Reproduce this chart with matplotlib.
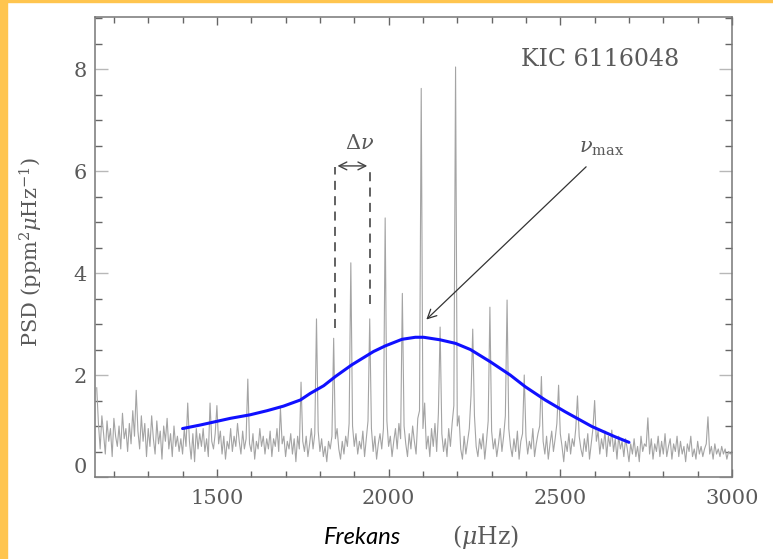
import numpy as np
import matplotlib
matplotlib.use('Agg')
import matplotlib.pyplot as plt
from matplotlib.patches import Rectangle
from matplotlib.ticker import MultipleLocator

plt.rcParams['mathtext.fontset'] = 'dejavuserif'

# Power spectrum, sampled every 5 muHz from 1150 to 3000 (one row = 100 muHz)
freq_start, freq_step = 1150, 5
psd = [
    1.75, 1.05, 0.55, 1.20, 0.85, 0.45, 1.10, 0.70, 0.95, 0.40, 1.15, 0.80, 0.60, 1.00, 0.55, 1.25, 0.75, 0.95, 0.50, 1.05,
    0.65, 1.30, 0.80, 1.70, 0.90, 0.55, 1.20, 0.70, 1.05, 0.40, 0.95, 0.60, 1.20, 0.75, 0.45, 1.10, 0.65, 0.90, 0.35, 1.00,
    0.70, 1.15, 0.55, 0.85, 0.40, 1.00, 0.60, 0.80, 0.50, 0.75, 0.45, 0.95, 0.60, 1.45, 0.70, 0.35, 0.85, 0.30, 0.95, 0.55,
    0.85, 0.60, 0.95, 0.50, 0.75, 0.40, 1.45, 0.70, 0.55, 0.85, 1.40, 0.65, 0.90, 0.45, 0.80, 0.35, 0.70, 0.55, 0.95, 0.50,
    0.80, 0.60, 1.05, 0.70, 0.45, 0.90, 0.55, 0.75, 1.92, 0.65, 0.50, 0.85, 0.35, 0.70, 0.55, 0.95, 0.60, 0.80, 0.45, 0.75,
    0.55, 0.90, 0.40, 0.75, 0.60, 0.95, 0.50, 1.35, 0.65, 0.80, 0.40, 0.70, 0.55, 0.85, 0.45, 0.75, 0.30, 0.80, 0.55, 1.86,
    0.70, 0.50, 0.80, 0.40, 0.65, 0.95, 0.55, 0.85, 3.10, 0.90, 0.50, 0.75, 0.40, 0.60, 0.30, 0.70, 0.55, 0.80, 2.72, 0.75,
    0.95, 0.55, 0.35, 0.70, 0.45, 0.80, 0.60, 1.05, 4.20, 1.00, 0.60, 0.85, 0.45, 0.70, 0.55, 0.90, 0.40, 0.75, 1.10, 3.10,
    0.95, 0.50, 0.80, 0.35, 0.65, 0.85, 0.55, 0.95, 5.08, 1.10, 0.60, 0.80, 0.40, 0.70, 0.95, 0.55, 1.05, 0.75, 3.60, 1.00,
    0.65, 0.40, 0.85, 0.55, 1.00, 0.70, 0.45, 1.15, 1.30, 7.62, 0.95, 1.45, 0.55, 0.80, 0.40, 0.95, 0.60, 1.05, 0.50, 1.25,
    2.94, 0.85, 0.50, 0.75, 0.40, 0.95, 0.60, 1.05, 1.40, 8.04, 1.00, 1.20, 0.55, 0.35, 0.80, 0.45, 0.70, 0.95, 1.60, 2.90,
    1.20, 0.60, 0.40, 0.75, 0.55, 0.85, 0.35, 0.70, 1.10, 3.33, 0.90, 0.55, 0.75, 0.40, 0.65, 0.95, 0.50, 0.80, 1.20, 3.47,
    0.95, 0.60, 0.40, 0.75, 0.50, 0.90, 0.35, 0.70, 0.85, 2.00, 0.80, 0.45, 0.70, 0.55, 0.95, 0.40, 0.65, 0.85, 1.00, 1.97,
    0.70, 0.45, 0.80, 0.35, 0.65, 0.90, 0.50, 0.75, 1.05, 1.80, 0.85, 0.60, 0.30, 0.70, 0.50, 0.85, 0.45, 0.75, 0.60, 0.95,
    1.59, 0.80, 0.55, 0.40, 0.75, 0.50, 0.85, 0.35, 0.65, 0.95, 1.50, 0.70, 0.90, 0.45, 0.75, 0.55, 0.90, 0.40, 0.80, 0.60,
    0.92, 0.50, 0.75, 0.35, 0.80, 0.55, 0.70, 0.40, 0.75, 0.55, 0.30, 0.65, 0.45, 0.75, 0.40, 0.60, 0.30, 0.80, 0.50, 0.65,
    0.60, 1.16, 0.45, 0.75, 0.35, 0.65, 0.50, 0.80, 0.40, 0.70, 0.45, 0.85, 0.40, 0.60, 0.75, 0.35, 0.65, 0.50, 0.80, 0.40,
    0.70, 0.45, 0.60, 0.30, 0.65, 0.50, 0.80, 0.40, 0.55, 0.35, 0.70, 0.45, 0.60, 0.40, 0.55, 0.65, 1.18, 0.45, 0.60, 0.35,
    0.65, 0.45, 0.55, 0.40, 0.60, 0.45, 0.55, 0.35, 0.50, 0.45, 0.50,
]
freq = freq_start + freq_step * np.arange(len(psd))

# Smoothed background + Gaussian envelope (blue curve)
env_freq = [1400, 1452, 1539, 1597, 1646, 1694, 1743, 1772, 1811, 1845, 1893, 1956, 1990,
            2039, 2078, 2102, 2150, 2195, 2238, 2296, 2354, 2398, 2456, 2514, 2592, 2659, 2700]
env_psd = [0.95, 1.02, 1.15, 1.22, 1.30, 1.39, 1.51, 1.64, 1.79, 1.97, 2.20, 2.46, 2.57,
           2.70, 2.74, 2.74, 2.69, 2.62, 2.50, 2.26, 2.00, 1.77, 1.51, 1.28, 0.99, 0.79, 0.68]

xticks = [1500, 2000, 2500, 3000]
yticks = [0, 2, 4, 6, 8]

# Delta nu markers and nu_max arrow
dnu_left, dnu_right = 1843, 1946
nu_max = 2104

grey = '#5a5a5a'
serif = 'DejaVu Serif'

fig = plt.figure(figsize=(7.73, 5.59), dpi=100)
ax = fig.add_axes([95 / 773, 1 - 477 / 559, (732 - 95) / 773, (477 - 17) / 559])

# yellow slide border
fig.patches.append(Rectangle((0, 0), 7 / 773, 1, transform=fig.transFigure, color='#ffc54f', zorder=0))
fig.patches.append(Rectangle((0, 1 - 2 / 559), 1, 2 / 559, transform=fig.transFigure, color='#ffc54f', zorder=0))

ax.plot(freq, psd, color='#a4a4a4', lw=0.8)
ax.plot(env_freq, env_psd, color='#1010ff', lw=2.2, solid_capstyle='round', solid_joinstyle='round')

# Delta nu
ax.plot([dnu_left, dnu_left], [2.92, 6.08], ls=(0, (5, 3.5)), color='#555555', lw=1.3)
ax.plot([dnu_right, dnu_right], [3.40, 6.08], ls=(0, (5, 3.5)), color='#555555', lw=1.3)
ax.annotate('', xy=(dnu_left, 6.1), xytext=(dnu_right, 6.1),
            arrowprops=dict(arrowstyle='<->', color='#444444', lw=1.0, mutation_scale=14))
ax.text((dnu_left + dnu_right) / 2 + 20, 6.35, r'$\Delta\nu$', ha='center', va='bottom',
        fontsize=15, color=grey)

# nu_max
ax.annotate('', xy=(nu_max, 3.05), xytext=(2581, 6.12),
            arrowprops=dict(arrowstyle='->', color='#333333', lw=0.9, mutation_scale=16))
ax.text(2620, 6.45, r'$\nu_{\rm max}$', ha='center', va='center', fontsize=15, color=grey)

ax.text(2616, 8.18, 'KIC 6116048', ha='center', va='center', fontsize=17, color=grey, family=serif)

ax.set_xlim(1145, 3000)
ax.set_ylim(0, 9.02)
ax.set_xticks(xticks)
ax.set_xticklabels([str(t) for t in xticks])
ax.set_yticks(yticks)
ax.set_yticklabels([str(t) for t in yticks])
ax.xaxis.set_minor_locator(MultipleLocator(100))
ax.yaxis.set_minor_locator(MultipleLocator(0.5))

ax.tick_params(which='both', direction='in', top=True, right=True, colors='#666666',
               labelcolor=grey, labelsize=15)
ax.tick_params(axis='x', which='major', length=6, width=1.0, pad=9)
ax.tick_params(axis='x', which='minor', length=4, width=1.0)
ax.tick_params(axis='y', which='major', length=9.5, width=1.0, pad=6, color='#b8b8b8')
ax.tick_params(axis='y', which='minor', length=5, width=1.0)
for lab in ax.get_xticklabels() + ax.get_yticklabels():
    lab.set_family(serif)
ax.get_yticklabels()[0].set_va('bottom')

for s in ax.spines.values():
    s.set_color('#777777')
    s.set_linewidth(1.1)

ax.set_ylabel(r'PSD (ppm$^2\mu$Hz$^{-1}$)', fontsize=15, color=grey, family=serif, labelpad=12)
ax.yaxis.set_label_coords(-(95 - 45) / 637, 0.49)

fig.text(362 / 773, 1 - 537 / 559, 'Frekans', ha='center', va='center', fontsize=17,
         style='italic', family='Lato', color='black')
fig.text(485 / 773, 1 - 537 / 559, r'($\mu$Hz)', ha='center', va='center', fontsize=17,
         family=serif, color=grey)

fig.savefig('out.png', dpi=100)
